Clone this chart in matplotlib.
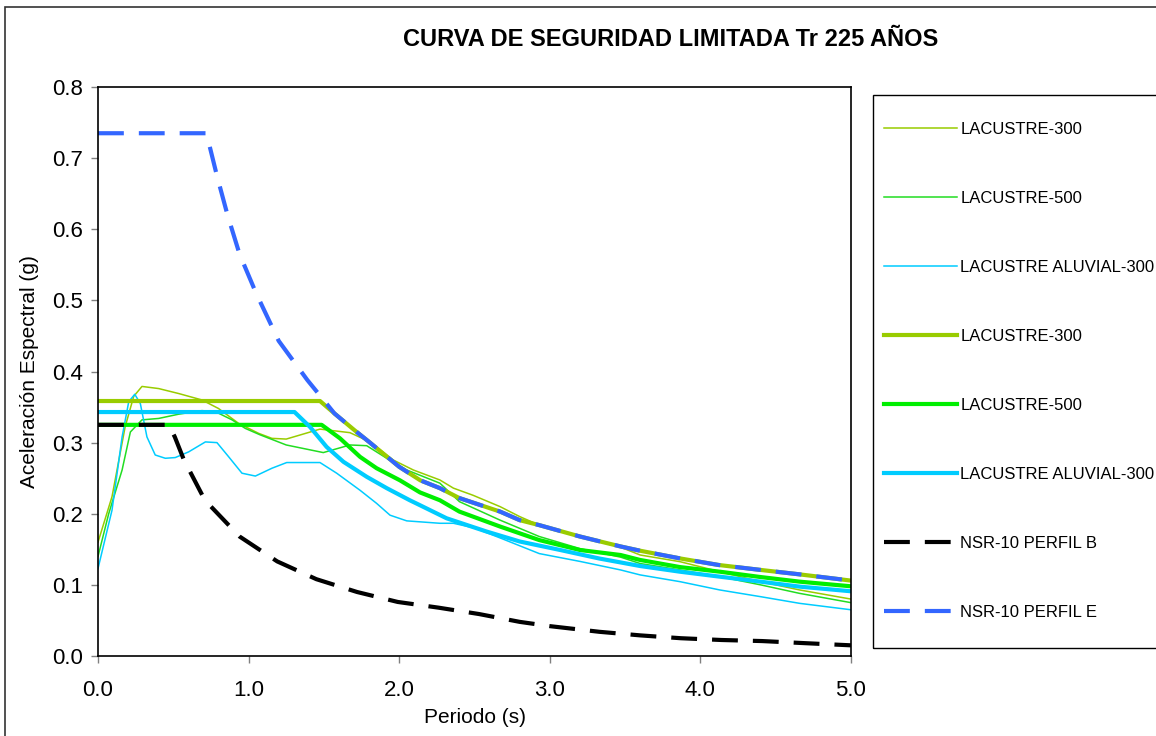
import numpy as np
import matplotlib
matplotlib.use('Agg')
import matplotlib.pyplot as plt
from matplotlib.patches import Rectangle

plt.rcParams['font.family'] = ['Liberation Sans', 'DejaVu Sans']

# spectra (periodo s, aceleracion g)
t_lac300 = [0.0, 0.093, 0.18, 0.237, 0.292, 0.403, 0.536, 0.69, 0.80, 0.934, 1.067, 1.155, 1.25,
            1.474, 1.673, 1.806, 1.96, 2.094, 2.27, 2.36, 2.49, 2.67, 2.80, 2.93, 3.2, 3.47,
            3.6, 3.865, 4.13, 4.40, 4.66, 5.0]
sa_lac300 = [0.16, 0.224, 0.322, 0.365, 0.379, 0.376, 0.369, 0.360, 0.348, 0.327, 0.313, 0.306, 0.305,
             0.319, 0.314, 0.301, 0.2756, 0.2615, 0.2475, 0.236, 0.226, 0.210, 0.196, 0.184, 0.168, 0.153,
             0.142, 0.1326, 0.1185, 0.1045, 0.0928, 0.080]

t_lac500 = [0.0, 0.071, 0.16, 0.215, 0.292, 0.403, 0.536, 0.69, 0.78, 0.89, 0.978, 1.076, 1.25,
            1.496, 1.673, 1.784, 1.917, 2.05, 2.27, 2.40, 2.67, 2.93, 3.2, 3.47,
            3.6, 3.865, 4.13, 4.40, 4.66, 5.0]
sa_lac500 = [0.14, 0.20, 0.2615, 0.315, 0.332, 0.334, 0.340, 0.345, 0.3435, 0.332, 0.320, 0.311, 0.2967,
             0.286, 0.2967, 0.2957, 0.278, 0.2615, 0.243, 0.217, 0.191, 0.168, 0.151, 0.139,
             0.130, 0.121, 0.1115, 0.100, 0.088, 0.075]

t_alu300 = [0.0, 0.093, 0.16, 0.204, 0.244, 0.281, 0.325, 0.38, 0.447, 0.513, 0.602, 0.713, 0.79,
            0.868, 0.956, 1.045, 1.155, 1.253, 1.474, 1.585, 1.74, 1.85, 1.939, 2.05, 2.27, 2.36,
            2.5, 2.67, 2.93, 3.2, 3.47, 3.6, 3.865, 4.13, 4.40, 4.66, 5.0]
sa_alu300 = [0.123, 0.205, 0.308, 0.3575, 0.368, 0.355, 0.308, 0.2826, 0.278, 0.279, 0.287, 0.301, 0.300,
             0.280, 0.257, 0.253, 0.264, 0.272, 0.272, 0.257, 0.233, 0.2146, 0.198, 0.190, 0.1866, 0.1866,
             0.180, 0.166, 0.144, 0.133, 0.121, 0.114, 0.1045, 0.0928, 0.0834, 0.074, 0.065]

# design curves
t_blue = [0.0, 0.72, 0.79, 0.86, 0.94, 1.05, 1.2, 1.39, 1.49, 1.57, 1.70, 1.80, 1.92, 2.0, 2.14,
          2.27, 2.40, 2.67, 2.80, 2.93, 3.2, 3.47, 3.6, 3.87, 4.12, 4.40, 4.65, 5.0]
sa_blue = [0.735, 0.735, 0.675, 0.620, 0.565, 0.510, 0.443, 0.388, 0.362, 0.341, 0.318, 0.301, 0.280,
           0.266, 0.247, 0.236, 0.222, 0.203, 0.191, 0.184, 0.168, 0.154, 0.148, 0.137, 0.128,
           0.121, 0.115, 0.106]

t_d300 = [0.0, 1.474, 1.57, 1.70, 1.80, 1.92, 2.0, 2.14, 2.27, 2.40, 2.67, 2.80, 2.93, 3.2, 3.47,
          3.6, 3.87, 4.12, 4.40, 4.65, 5.0]
sa_d300 = [0.3585, 0.3585, 0.341, 0.318, 0.301, 0.280, 0.266, 0.247, 0.236, 0.222, 0.203, 0.191,
           0.184, 0.168, 0.154, 0.148, 0.137, 0.128, 0.121, 0.115, 0.106]

t_d500 = [0.0, 1.485, 1.607, 1.74, 1.85, 2.005, 2.138, 2.27, 2.40, 2.67, 2.93, 3.2, 3.47,
          3.6, 3.865, 4.13, 4.40, 4.66, 5.0]
sa_d500 = [0.325, 0.325, 0.306, 0.280, 0.264, 0.247, 0.230, 0.219, 0.203, 0.182, 0.163, 0.149, 0.142,
           0.135, 0.125, 0.1185, 0.111, 0.1045, 0.098]

t_dalu = [0.0, 1.305, 1.408, 1.518, 1.63, 1.784, 1.917, 2.07, 2.138, 2.315, 2.58, 2.80, 3.07, 3.33,
          3.6, 3.865, 4.13, 4.40, 4.66, 5.0]
sa_dalu = [0.343, 0.343, 0.322, 0.294, 0.273, 0.252, 0.236, 0.219, 0.212, 0.1936, 0.175, 0.161, 0.149,
           0.137, 0.1265, 0.1185, 0.1115, 0.1045, 0.0975, 0.091]

t_nsrb = [0.0, 0.47, 0.51, 0.57, 0.71, 0.94, 1.19, 1.45, 1.72, 1.99, 2.26, 2.53, 2.80, 3.0, 3.33, 3.6,
          3.87, 4.14, 4.41, 4.7, 5.0]
sa_nsrb = [0.325, 0.325, 0.308, 0.276, 0.219, 0.168, 0.133, 0.108, 0.090, 0.076, 0.068, 0.059, 0.048,
           0.042, 0.034, 0.029, 0.025, 0.0225, 0.021, 0.018, 0.015]

labels = ['LACUSTRE-300', 'LACUSTRE-500', 'LACUSTRE ALUVIAL-300',
          'LACUSTRE-300', 'LACUSTRE-500', 'LACUSTRE ALUVIAL-300',
          'NSR-10 PERFIL B', 'NSR-10 PERFIL E']

olive = '#99CC00'
green = '#00EE00'
cyan = '#00CCFF'
blue = '#3366FF'

W, H = 1156, 736
fig = plt.figure(figsize=(W / 100, H / 100), dpi=100)
ax = fig.add_axes([98 / W, 1 - 656 / H, (851 - 98) / W, (656 - 87) / H])

dash = (0, (6.2, 3.6))
ax.plot(t_lac300, sa_lac300, color=olive, lw=1.1, label=labels[0])
ax.plot(t_lac500, sa_lac500, color='#22DD22', lw=1.1, label=labels[1])
ax.plot(t_alu300, sa_alu300, color=cyan, lw=1.1, label=labels[2])
ax.plot(t_d300, sa_d300, color=olive, lw=3, label=labels[3])
ax.plot(t_d500, sa_d500, color=green, lw=3, label=labels[4])
ax.plot(t_dalu, sa_dalu, color=cyan, lw=3, label=labels[5])
ax.plot(t_nsrb, sa_nsrb, color='black', lw=3, ls=dash, label=labels[6])
ax.plot(t_blue, sa_blue, color=blue, lw=3, ls=dash, label=labels[7])

ax.set_xlim(0, 5)
ax.set_ylim(0, 0.8)
ax.set_xticks(np.arange(0, 5.01, 1.0))
ax.set_yticks(np.arange(0, 0.81, 0.1))
ax.xaxis.set_major_formatter(matplotlib.ticker.FormatStrFormatter('%.1f'))
ax.yaxis.set_major_formatter(matplotlib.ticker.FormatStrFormatter('%.1f'))
ax.tick_params(direction='out', length=5, width=1, color='#808080', labelsize=16, pad=6)
ax.tick_params(axis='x', pad=12)
for s in ax.spines.values():
    s.set_color('black')
    s.set_linewidth(1.2)

ax.set_xlabel('Periodo (s)', fontsize=15, labelpad=5)
ax.set_ylabel('Aceleración Espectral (g)', fontsize=15, labelpad=9)

fig.text(671 / W, 1 - 40 / H, 'CURVA DE SEGURIDAD LIMITADA Tr 225 AÑOS',
         ha='center', va='center', fontsize=17, fontweight='bold')

# outer chart frame and legend box
fig.add_artist(Rectangle((5 / W, -0.1), 1.2, 1 - 7 / H + 0.1, transform=fig.transFigure,
                         fill=False, edgecolor='#333333', lw=1.2))
fig.add_artist(Rectangle((873 / W, 1 - 648 / H), 1.0, (648 - 95) / H, transform=fig.transFigure,
                         fill=False, edgecolor='black', lw=1))

fig.legend(loc='upper left', bbox_to_anchor=(884 / W, 1 - 122 / H), frameon=False,
           fontsize=12, handlelength=4.37, handletextpad=0.2, labelspacing=3.24,
           borderpad=0, borderaxespad=0)

fig.savefig('out.png', dpi=100)
